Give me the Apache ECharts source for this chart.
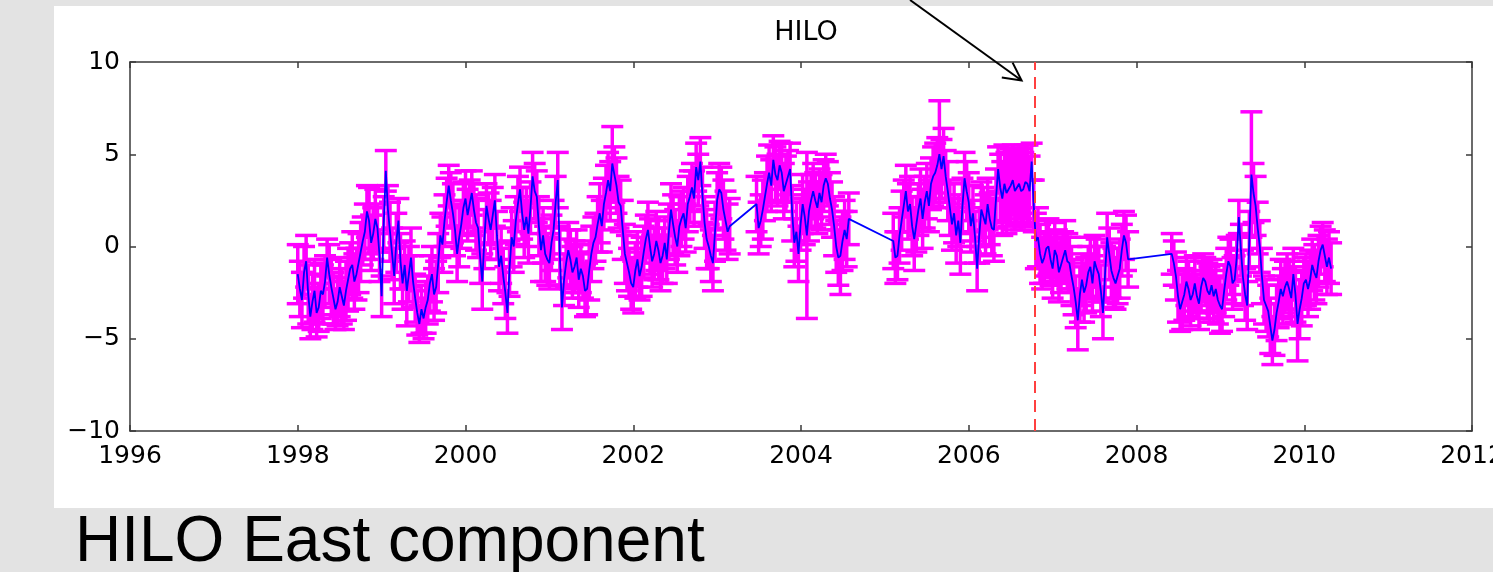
<!DOCTYPE html>
<html>
<head>
<meta charset="utf-8">
<title>HILO East component</title>
<script src="https://cdn.jsdelivr.net/npm/echarts@6/dist/echarts.min.js"></script>
<style>
  html, body { margin: 0; padding: 0; background: #e3e3e3; }
  #chart { width: 1493px; height: 572px; }
</style>
</head>
<body>
<div id="chart"></div>
<script>
// GPS east component (cm) at HILO, sampled every 0.025 yr within each segment
const sampleStep = 0.025;
const segStarts = [1998.00, 2003.47, 2005.10, 2008.42];

const eastA = [
  -1.5, -2.3, -2.9, -1.4, -0.8, -2.6, -3.8, -3.0, -2.4, -3.6, -3.3, -2.4, -2.6, -1.9, -0.6, -1.5, -2.2, -2.8, -3.4, -3.0,
  -2.2, -2.7, -3.2, -2.4, -1.8, -1.2, -1.0, -1.9, -1.5, -0.9, -0.3, 0.3, 0.8, 1.9, 1.4, 0.2, 0.7, 1.5, 1.0, -0.5,
  -2.7, 1.2, 4.1, 2.0, 0.8, -0.4, -1.6, 0.2, 1.4, -0.8, -2.0, -1.0, -2.4, -1.5, -0.6, -1.9, -2.8, -3.6, -4.2, -3.4,
  -3.9, -3.3, -2.9, -2.0, -1.5, -2.6, -2.2, -0.9, 0.6, 0.1, 1.4, 2.4, 3.3, 2.5, 1.8, 0.9, -0.4, 0.5, 1.2, 2.1,
  2.6, 1.7, 2.3, 2.9, 2.0, 1.3, 1.0, -0.6, -1.9, 0.4, 2.2, 1.5, 0.9, 1.7, 2.5, 0.6, -1.1, -0.5, -1.6, -2.5,
  -3.6, -1.2, 0.5, 0.0, 1.4, 2.3, 3.1, 1.8, 0.9, 1.6, 0.7, 2.1, 3.8, 3.0, 2.7, 1.1, -0.2, 0.6, -0.4, -0.7,
  -0.9, 0.2, 0.9, 2.4, 3.6, -0.5, -3.3, -1.8, -0.9, -0.2, -0.7, -1.4, -1.1, -0.6, -1.8, -1.2, -1.6, -2.4, -2.3, -1.3,
  -0.4, 0.2, 0.5, 1.2, 1.8, 1.1, 2.3, 2.9, 3.6, 3.0, 4.5, 3.9, 3.3, 2.4, 2.2, 0.9, -0.4, -0.9, -1.4, -2.0,
  -2.2, -1.3, -0.7, -1.6, -1.1, -0.3, 0.4, 0.9, 0.0, -0.8, -0.4, 0.3, -0.2, -0.9, -0.5, 0.2, -0.7, 0.8, 2.0, 1.2,
  0.5, 0.0, 1.1, 1.5, 1.8, 1.0, 2.3, 2.7, 3.2, 2.6, 4.3, 3.6, 4.6, 2.8, 1.3, 0.4, 0.0, -0.5, -0.9, 0.8,
  2.5, 3.1, 2.9, 2.0, 1.4, 0.8, 1.1
];
const errA = [
  1.6, 1.5, 1.5, 1.4, 1.4, 1.6, 1.2, 1.5, 1.7, 1.3, 1.3, 1.5, 1.6, 1.4, 1.0, 1.6, 1.5, 1.4, 1.1, 1.3,
  1.6, 1.5, 1.3, 1.6, 1.7, 1.4, 1.8, 1.5, 1.4, 1.6, 1.6, 1.3, 1.5, 1.4, 1.8, 1.5, 1.4, 1.6, 1.3, 1.4,
  1.1, 1.5, 1.1, 1.3, 1.6, 1.4, 1.5, 1.6, 1.2, 1.5, 1.4, 1.3, 1.9, 1.5, 1.6, 1.4, 1.3, 1.2, 1.0, 1.3,
  1.1, 1.4, 1.3, 1.5, 1.5, 1.4, 1.4, 1.6, 1.2, 1.5, 1.4, 1.3, 1.1, 1.5, 1.6, 1.4, 1.5, 1.6, 1.3, 1.4,
  1.5, 1.4, 1.3, 1.2, 1.4, 1.5, 1.6, 1.4, 1.5, 1.6, 1.2, 1.4, 1.6, 1.5, 1.4, 1.3, 1.3, 1.5, 1.5, 1.4,
  1.1, 1.5, 1.6, 1.4, 1.3, 1.5, 1.2, 1.4, 1.5, 1.6, 1.6, 1.4, 1.3, 1.5, 1.4, 1.6, 1.7, 1.5, 1.5, 1.4,
  1.4, 1.5, 1.6, 1.4, 1.5, 1.6, 1.2, 1.4, 1.3, 1.5, 1.6, 1.4, 1.4, 1.5, 1.5, 1.3, 1.2, 1.4, 1.4, 1.6,
  1.5, 1.4, 1.3, 1.5, 1.6, 1.4, 1.4, 1.5, 1.5, 1.6, 2.0, 1.5, 1.5, 1.4, 1.4, 1.6, 1.6, 1.5, 1.3, 1.4,
  1.4, 1.5, 1.5, 1.3, 1.6, 1.4, 1.3, 1.5, 1.5, 1.4, 1.4, 1.6, 1.6, 1.5, 1.5, 1.4, 1.3, 1.5, 1.4, 1.6,
  1.5, 1.4, 1.6, 1.5, 1.4, 1.3, 1.5, 1.4, 1.3, 1.5, 1.3, 1.4, 1.3, 1.5, 1.4, 1.6, 1.2, 1.4, 1.5, 1.6,
  1.5, 1.4, 1.4, 1.6, 1.6, 1.5, 1.5
];

const eastB = [
  2.3, 1.0, 1.4, 2.0, 2.7, 3.4, 4.0, 3.3, 4.7, 3.9, 3.6, 4.4, 4.0, 3.0, 3.4, 3.8, 4.2, 1.8, 0.2, 0.8,
  -0.4, 1.2, 2.3, 1.6, 0.6, 1.9, 2.5, 3.0, 2.5, 2.1, 2.9, 2.4, 3.3, 3.7, 3.4, 2.6, 2.0, 1.1, 0.0, -0.6,
  -0.5, 0.3, 0.9, 0.4, 1.5
];
const errB = [
  1.5, 1.4, 1.4, 1.6, 1.3, 1.5, 1.5, 1.4, 1.3, 1.5, 1.4, 1.3, 1.6, 1.5, 1.5, 1.4, 1.4, 1.5, 1.3, 1.6,
  1.5, 1.4, 1.6, 1.5, 4.5, 1.6, 1.4, 1.5, 1.5, 1.4, 1.3, 1.5, 1.4, 1.3, 1.2, 1.4, 1.5, 1.6, 1.4, 1.5,
  2.1, 1.6, 1.6, 1.5, 1.4
];

const eastC = [
  0.3, -0.6, -0.5, 0.6, 1.4, 2.2, 3.0, 1.9, 2.3, 1.1, 0.4, 1.2, 2.0, 2.6, 1.5, 2.4, 3.0, 2.2, 3.4, 3.8,
  4.0, 4.4, 5.0, 4.2, 4.9, 3.8, 3.0, 2.1, 1.2, 1.8, 0.6, 1.4, 0.2, 2.2, 3.7, 3.0, 2.4, 1.1, 1.8, 0.5,
  -1.2, 0.6, 2.0, 1.6, 1.2, 2.3, 1.5, 1.0, 0.9, 2.6, 4.2, 3.2, 2.6, 3.4, 2.9, 3.1, 3.3, 3.6, 3.0, 3.2,
  3.4, 3.0, 3.1, 3.5, 3.4, 3.0, 4.6, 2.2, 0.3, 0.5, -0.4, -0.9, -0.6, -0.1, 0.0, -0.7, -1.2, -0.2, -0.5, -1.4,
  -1.0, -0.6, -0.2, -0.8, -0.9, -1.6, -2.2, -3.0, -4.0, -2.6, -1.8, -2.5, -2.1, -1.4, -1.1, -2.0, -0.8, -1.2, -1.5, -2.4,
  -3.6, -1.5, 0.5, -0.4, -1.3, -1.7, -2.0, -1.6, -1.2, -0.2, 0.6, 0.2, -0.7
];
const errC = [
  1.5, 1.4, 1.3, 1.5, 1.6, 1.4, 1.4, 1.5, 1.5, 1.6, 1.7, 1.5, 1.4, 1.6, 1.6, 1.4, 1.5, 1.4, 1.4, 1.6,
  1.6, 1.5, 2.9, 1.6, 1.5, 1.4, 1.6, 1.5, 1.4, 1.6, 1.5, 1.4, 1.7, 1.5, 1.4, 1.6, 1.6, 1.4, 1.5, 1.4,
  1.2, 1.5, 1.5, 1.6, 1.6, 1.4, 1.4, 1.5, 1.7, 1.6, 1.2, 1.8, 2.0, 2.1, 2.2, 2.0, 2.0, 1.9, 2.1, 2.0,
  1.9, 2.1, 2.0, 2.0, 2.1, 1.9, 1.0, 1.4, 1.5, 1.6, 1.6, 1.4, 1.4, 1.5, 1.5, 1.4, 1.6, 1.5, 1.4, 1.6,
  1.5, 1.4, 1.6, 1.5, 1.4, 1.6, 1.5, 1.4, 1.6, 1.5, 1.4, 1.6, 1.5, 1.4, 1.6, 1.5, 1.4, 1.6, 1.5, 1.4,
  1.4, 1.5, 1.3, 1.4, 1.5, 1.6, 1.4, 1.5, 1.6, 1.4, 1.3, 1.5, 1.5
];

const eastD = [
  -0.4, -0.9, -1.6, -2.7, -3.4, -3.0, -2.6, -1.9, -2.3, -2.9, -2.6, -2.0, -2.7, -3.1, -2.2, -1.7, -1.9, -2.4, -2.6, -2.1,
  -2.7, -2.3, -2.9, -3.2, -3.4, -2.4, -1.5, -0.8, -1.1, -2.0, -1.8, -0.6, 1.6, -0.2, -1.7, -2.6, -3.2, 0.4, 3.9, 2.9,
  2.2, 1.0, 0.0, -1.6, -2.9, -3.2, -3.5, -4.3, -5.1, -4.5, -3.6, -3.0, -2.3, -2.7, -2.2, -1.9, -2.3, -2.8, -1.5, -2.6,
  -4.2, -3.4, -2.8, -2.0, -1.8, -2.3, -1.8, -1.0, -1.4, -1.7, -0.8, -0.2, 0.1, -0.5, -1.1, -0.6, -1.2
];
const errD = [
  1.1, 1.2, 1.3, 1.4, 1.2, 1.5, 1.4, 1.3, 1.5, 1.4, 1.3, 1.5, 1.2, 1.4, 1.4, 1.3, 1.3, 1.5, 1.5, 1.4,
  1.4, 1.3, 1.3, 1.5, 1.2, 1.4, 1.4, 1.3, 1.5, 1.4, 1.3, 1.2, 0.9, 1.4, 1.5, 1.4, 1.3, 1.5, 3.4, 1.6,
  1.6, 1.4, 1.4, 1.5, 1.3, 1.4, 1.4, 1.5, 1.3, 1.4, 1.5, 1.4, 1.6, 1.5, 1.4, 1.5, 1.5, 1.4, 1.4, 1.5,
  2.0, 1.6, 1.5, 1.4, 1.4, 1.5, 1.6, 1.4, 1.5, 1.4, 1.4, 1.3, 1.2, 1.4, 1.5, 1.4, 1.4
];

const eventYear = 2006.79;            // red dashed marker
const arrowFrom = [2005.30, 13.36];   // annotation arrow (data units)
const arrowTo = [2006.63, 9.0];
const xTicks = { min: 1996, max: 2012, interval: 2 };
const yTicks = { min: -10, max: 10, interval: 5 };

// build point tables
const segValues = [eastA, eastB, eastC, eastD];
const segErrors = [errA, errB, errC, errD];
const linePts = [];
const errPts = [];
segValues.forEach((vals, s) => {
  if (vals.length !== segErrors[s].length) console.warn('length mismatch in segment', s);
  vals.forEach((v, i) => {
    const t = +(segStarts[s] + i * sampleStep).toFixed(3);
    const e = segErrors[s][i];
    linePts.push([t, v]);
    errPts.push([t, v - e, v + e]);
  });
});

const chart = echarts.init(document.getElementById('chart'));

const tickFmt = v => (v < 0 ? '\u2212' + Math.abs(v) : String(v));

function axisBase(pos, showLabel) {
  return {
    type: 'value',
    position: pos,
    axisLine: { show: true, onZero: false, lineStyle: { color: '#3a3a3a', width: 1.5 } },
    axisTick: { show: true, inside: true, length: 6, lineStyle: { color: '#3a3a3a', width: 1.5 } },
    axisLabel: {
      show: showLabel, color: '#000', fontFamily: 'DejaVu Sans', fontSize: 25,
      margin: 10, formatter: tickFmt
    },
    splitLine: { show: false }
  };
}

const capHalf = 11;
function renderErr(params, api) {
  const t = api.value(0);
  const lo = api.coord([t, api.value(1)]);
  const hi = api.coord([t, api.value(2)]);
  const st = { stroke: '#ff00ff', lineWidth: 3.5 };
  return {
    type: 'group',
    children: [
      { type: 'line', shape: { x1: lo[0], y1: lo[1], x2: hi[0], y2: hi[1] }, style: st },
      { type: 'line', shape: { x1: lo[0] - capHalf, y1: lo[1], x2: lo[0] + capHalf, y2: lo[1] }, style: st },
      { type: 'line', shape: { x1: hi[0] - capHalf, y1: hi[1], x2: hi[0] + capHalf, y2: hi[1] }, style: st }
    ]
  };
}

const xBottom = Object.assign(axisBase('bottom', true), xTicks);
xBottom.axisLabel.margin = 13;

chart.setOption({
  backgroundColor: '#e3e3e3',
  animation: false,
  textStyle: { fontFamily: 'DejaVu Sans' },
  title: {
    text: 'HILO',
    left: 801,
    textAlign: 'center',
    top: 14,
    textStyle: { fontFamily: 'DejaVu Sans', fontSize: 27, fontWeight: 'normal', color: '#000' }
  },
  grid: { left: 130, top: 62, width: 1342, height: 369, containLabel: false, outerBoundsMode: 'none' },
  xAxis: [
    xBottom,
    Object.assign(axisBase('top', false), xTicks)
  ],
  yAxis: [
    Object.assign(axisBase('left', true), yTicks),
    Object.assign(axisBase('right', false), yTicks)
  ],
  series: [
    {
      type: 'custom',
      name: 'error',
      renderItem: renderErr,
      data: errPts,
      encode: { x: 0, y: [1, 2] },
      z: 2,
      silent: true
    },
    {
      type: 'line',
      name: 'East',
      data: linePts,
      showSymbol: false,
      symbol: 'none',
      lineStyle: { color: '#0000ff', width: 1.8 },
      z: 3,
      silent: true,
      markLine: {
        silent: true,
        symbol: 'none',
        label: { show: false },
        lineStyle: { color: '#ff4040', type: [12, 7], width: 2 },
        data: [{ xAxis: eventYear }]
      }
    }
  ]
});

// decorations: white panel, caption, annotation arrow
const p0 = chart.convertToPixel({ xAxisIndex: 0, yAxisIndex: 0 }, arrowFrom);
const p1 = chart.convertToPixel({ xAxisIndex: 0, yAxisIndex: 0 }, arrowTo);
const ang = Math.atan2(p0[1] - p1[1], p0[0] - p1[0]);
const headLen = 20, headAng = 0.48;
const b1 = [p1[0] + headLen * Math.cos(ang + headAng), p1[1] + headLen * Math.sin(ang + headAng)];
const b2 = [p1[0] + headLen * Math.cos(ang - headAng), p1[1] + headLen * Math.sin(ang - headAng)];

chart.setOption({
  graphic: [
    {
      type: 'rect', z: -10, silent: true,
      shape: { x: 54, y: 6, width: 1439, height: 502 },
      style: { fill: '#ffffff' }
    },
    {
      type: 'text', z: 10, silent: true, x: 75, y: 511,
      style: { text: 'HILO East component', fill: '#000', font: '64px "Liberation Sans", Arial, sans-serif', textVerticalAlign: 'top' }
    },
    {
      type: 'line', z: 10, silent: true,
      shape: { x1: p0[0], y1: p0[1], x2: p1[0], y2: p1[1] },
      style: { stroke: '#000', lineWidth: 2 }
    },
    {
      type: 'polyline', z: 10, silent: true,
      shape: { points: [b1, p1, b2] },
      style: { stroke: '#000', lineWidth: 2, fill: null }
    }
  ]
});
</script>
</body>
</html>
